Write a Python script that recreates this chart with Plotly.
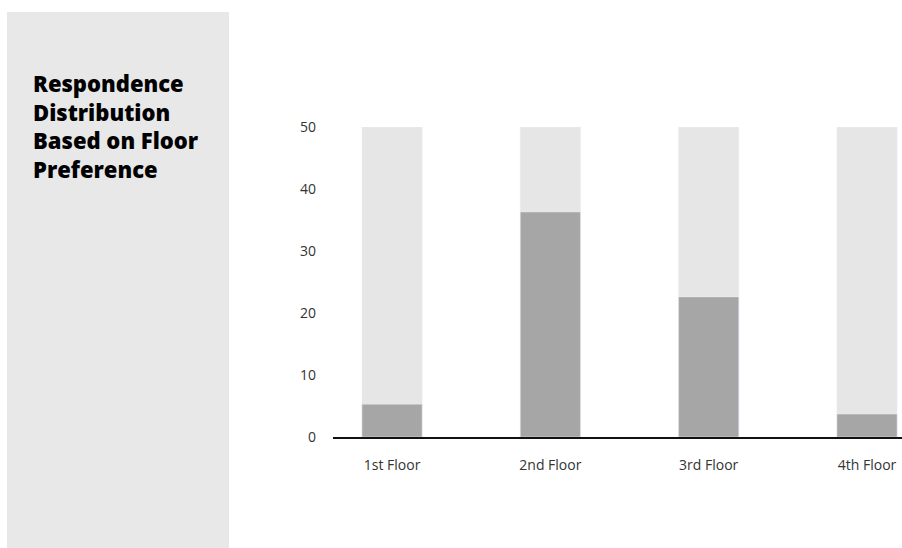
import plotly.graph_objects as go

categories = ["1st Floor", "2nd Floor", "3rd Floor", "4th Floor"]
values = [5.3, 36.3, 22.6, 3.7]
totals = [50, 50, 50, 50]
y_ticks = [0, 10, 20, 30, 40, 50]
title_text = "Respondence<br>Distribution<br>Based on Floor<br>Preference"

W, H = 902, 548
L, R, T, B = 333, 0, 127, 111
pw, ph = W - L - R, H - T - B

def px_x(x):
    return (x - L) / pw

def px_y(y):
    return (H - B - y) / ph

fig = go.Figure()
fig.add_trace(go.Bar(x=categories, y=totals, marker_color="#e6e6e6",
                     width=0.38, hoverinfo="skip", showlegend=False))
fig.add_trace(go.Bar(x=categories, y=values, marker_color="#a6a6a6",
                     width=0.38, showlegend=False))

fig.update_layout(
    width=W, height=H,
    margin=dict(l=L, r=R, t=T, b=B),
    paper_bgcolor="white", plot_bgcolor="white",
    barmode="overlay",
    font=dict(family="Open Sans", color="#333333", size=14),
    xaxis=dict(range=[-0.373, 3.221], showgrid=False, zeroline=False,
               showline=True, linecolor="#111111", linewidth=2,
               ticks="", ticklabelstandoff=14, tickfont=dict(size=14, color="#333333")),
    yaxis=dict(range=[0, 50], tickvals=y_ticks, showgrid=False, zeroline=False,
               showline=False, ticks="", ticklabelstandoff=16,
               tickfont=dict(size=14, color="#333333")),
    shapes=[dict(type="rect", xref="paper", yref="paper",
                 x0=px_x(7), x1=px_x(229), y0=px_y(560), y1=px_y(12),
                 fillcolor="#e8e8e8", line=dict(width=0), layer="below")],
    annotations=[dict(text=title_text, xref="paper", yref="paper",
                      x=px_x(31), y=px_y(66), xanchor="left", yanchor="top",
                      align="left", showarrow=False,
                      font=dict(family="Open Sans", size=22, color="#000000", weight=800))],
)

fig.write_html("out.html")
